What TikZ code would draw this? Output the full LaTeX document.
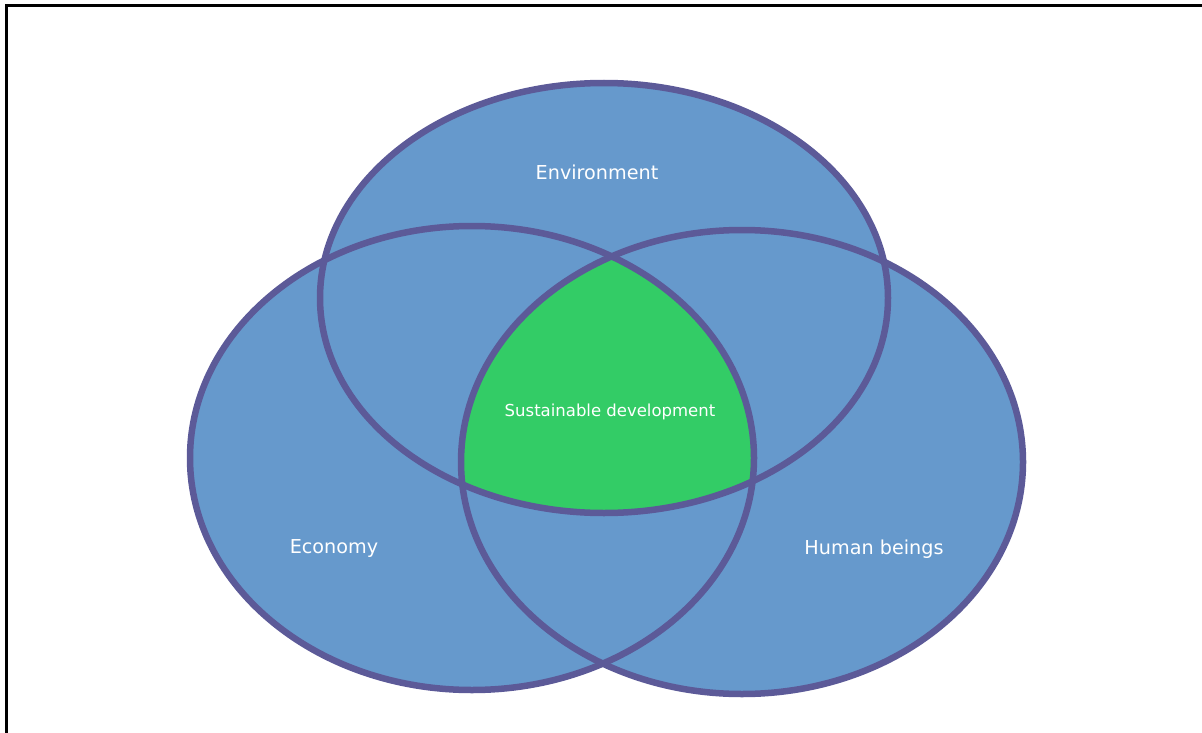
\documentclass[tikz,border=0pt]{standalone}
\usepackage{fontspec}
\setmainfont{DejaVu Sans}
\definecolor{vblue}{RGB}{102,153,204}
\definecolor{vline}{RGB}{92,90,152}
\definecolor{vgreen}{RGB}{51,204,102}
\begin{document}
\begin{tikzpicture}[x=1pt,y=-1pt,
  setfill/.style={fill=vblue},
  setline/.style={draw=vline,line width=6.5pt},
  lbl/.style={text=white,font=\fontsize{19.2}{22}\selectfont,inner sep=0pt}]
\useasboundingbox (0,0) rectangle (1202,733);
% frame (only top and left edges visible)
\draw[line width=3pt,black] (6,733) -- (6,6) -- (1202,6);
% fills
\fill[setfill] (604,298) ellipse [x radius=284,y radius=215];
\fill[setfill] (472,458) ellipse [x radius=282,y radius=232];
\fill[setfill] (742,462) ellipse [x radius=281,y radius=232];
% intersection
\begin{scope}
  \clip (604,298) ellipse [x radius=284,y radius=215];
  \clip (472,458) ellipse [x radius=282,y radius=232];
  \fill[vgreen] (742,462) ellipse [x radius=281,y radius=232];
\end{scope}
% outlines
\draw[setline] (604,298) ellipse [x radius=284,y radius=215];
\draw[setline] (472,458) ellipse [x radius=282,y radius=232];
\draw[setline] (742,462) ellipse [x radius=281,y radius=232];
% labels
\node[lbl] (env) at (597,172) {Environment};
\node[lbl] (eco) at (334,548) {Economy};
\node[lbl] (hum) at (874,549) {Human beings};
\node[lbl,font=\fontsize{16.5}{19}\selectfont] (sus) at (610,412) {Sustainable development};
\end{tikzpicture}
\end{document}
